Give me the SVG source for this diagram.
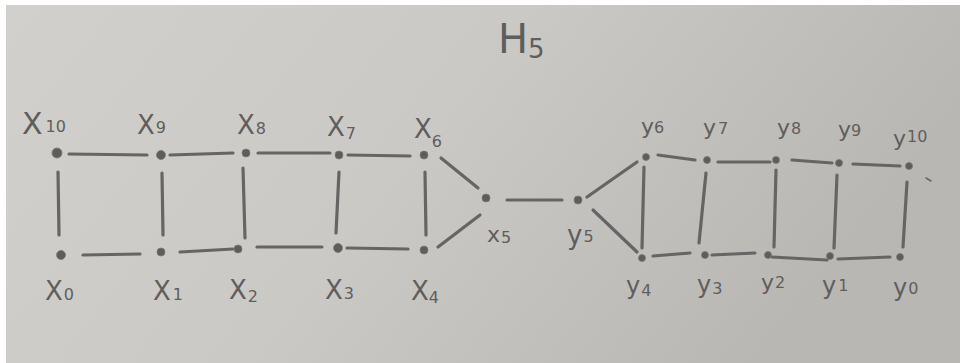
<svg xmlns="http://www.w3.org/2000/svg" width="960" height="363" viewBox="0 0 960 363">
<defs>
<linearGradient id="paper" x1="0" y1="0" x2="1" y2="0.3">
<stop offset="0" stop-color="#d2d0cd"/>
<stop offset="0.5" stop-color="#cbc9c6"/>
<stop offset="1" stop-color="#b9b7b4"/>
</linearGradient>
<style>
.e{stroke:#666565;stroke-width:3.2;stroke-linecap:round;fill:none}
.n{fill:#5e5d5c;stroke:#7a7977;stroke-width:0.8}
.l{font-family:"DejaVu Sans",sans-serif;fill:#5f5e5d;font-size:26px}
.s{font-size:16px}
</style>
</defs>
<rect width="960" height="363" fill="#ffffff"/>
<rect x="6" y="5" width="954" height="358" fill="url(#paper)"/>
<text class="l" x="498" y="53" style="font-size:40px">H<tspan style="font-size:26px" dy="5">5</tspan></text>
<g id="edges">
<line class="e" x1="69" y1="154" x2="147" y2="155"/>
<line class="e" x1="170" y1="155" x2="233" y2="153"/>
<line class="e" x1="258" y1="153" x2="330" y2="153"/>
<line class="e" x1="348" y1="155" x2="410" y2="156"/>
<line class="e" x1="83" y1="255" x2="140" y2="254"/>
<line class="e" x1="180" y1="252" x2="233" y2="249"/>
<line class="e" x1="257" y1="247" x2="322" y2="247"/>
<line class="e" x1="347" y1="248" x2="408" y2="249"/>
<line class="e" x1="58" y1="172" x2="59" y2="235"/>
<line class="e" x1="162" y1="173" x2="163" y2="235"/>
<line class="e" x1="243" y1="168" x2="245" y2="238"/>
<line class="e" x1="339" y1="172" x2="336" y2="233"/>
<line class="e" x1="425" y1="172" x2="426" y2="235"/>
<line class="e" x1="441" y1="158" x2="478" y2="188"/>
<line class="e" x1="438" y1="247" x2="480" y2="215"/>
<line class="e" x1="507" y1="200" x2="562" y2="200"/>
<line class="e" x1="587" y1="197" x2="637" y2="162"/>
<line class="e" x1="593" y1="210" x2="637" y2="252"/>
<line class="e" x1="658" y1="155" x2="695" y2="160"/>
<line class="e" x1="718" y1="162" x2="770" y2="162"/>
<line class="e" x1="792" y1="160" x2="832" y2="163"/>
<line class="e" x1="853" y1="164" x2="900" y2="166"/>
<line class="e" x1="653" y1="256" x2="690" y2="253"/>
<line class="e" x1="712" y1="255" x2="755" y2="253"/>
<line class="e" x1="772" y1="257" x2="827" y2="260"/>
<line class="e" x1="838" y1="259" x2="890" y2="257"/>
<line class="e" x1="644" y1="167" x2="642" y2="248"/>
<line class="e" x1="706" y1="173" x2="699" y2="243"/>
<line class="e" x1="776" y1="170" x2="774" y2="247"/>
<line class="e" x1="837" y1="175" x2="834" y2="248"/>
<line class="e" x1="907" y1="182" x2="903" y2="247"/>
<line class="e" style="stroke-width:1.5" x1="926" y1="178" x2="931" y2="181"/>
</g>
<g id="x10"><circle class="n" cx="57" cy="153" r="5"/><text class="l" x="22" y="134" style="font-size:30px">X<tspan class="s" dx="3" dy="-2">10</tspan></text></g>
<g id="x9"><circle class="n" cx="161" cy="155" r="4.5"/><text class="l" x="137" y="134">X<tspan class="s" dx="1" dy="-1">9</tspan></text></g>
<g id="x8"><circle class="n" cx="246" cy="153" r="4"/><text class="l" x="237" y="134">X<tspan class="s" dx="1">8</tspan></text></g>
<g id="x7"><circle class="n" cx="339" cy="155" r="4"/><text class="l" x="327" y="136">X<tspan class="s" dx="1" dy="3">7</tspan></text></g>
<g id="x6"><circle class="n" cx="424" cy="155" r="4"/><text class="l" x="414" y="138">X<tspan class="s" dx="0" dy="9">6</tspan></text></g>
<g id="x0"><circle class="n" cx="61" cy="255" r="4.5"/><text class="l" x="45" y="300">X<tspan class="s" dx="1">0</tspan></text></g>
<g id="x1"><circle class="n" cx="161" cy="252" r="4"/><text class="l" x="153" y="300">X<tspan class="s" dx="2">1</tspan></text></g>
<g id="x2"><circle class="n" cx="238" cy="249" r="4"/><text class="l" x="229" y="299">X<tspan class="s" dx="1" dy="3">2</tspan></text></g>
<g id="x3"><circle class="n" cx="338" cy="248" r="4.5"/><text class="l" x="325" y="299">X<tspan class="s" dx="1">3</tspan></text></g>
<g id="x4"><circle class="n" cx="424" cy="250" r="4"/><text class="l" x="411" y="300">X<tspan class="s" dx="0" dy="3">4</tspan></text></g>
<g id="x5"><circle class="n" cx="486" cy="198" r="4"/><text class="l" x="487" y="242" style="font-size:22px">x<tspan class="s" dx="1" dy="1">5</tspan></text></g>
<g id="y5"><circle class="n" cx="578" cy="200" r="4"/><text class="l" x="567" y="244">y<tspan class="s" dx="1" dy="-2">5</tspan></text></g>
<g id="y6"><circle class="n" cx="646" cy="157" r="3.5"/><text class="l" x="641" y="134" style="font-size:22px">y<tspan class="s" dx="0" dy="-1">6</tspan></text></g>
<g id="y7"><circle class="n" cx="707" cy="160" r="3.5"/><text class="l" x="703" y="135" style="font-size:22px">y<tspan class="s" dx="2" dy="-1">7</tspan></text></g>
<g id="y8"><circle class="n" cx="776" cy="160" r="3.5"/><text class="l" x="777" y="135" style="font-size:22px">y<tspan class="s" dx="1" dy="-1">8</tspan></text></g>
<g id="y9"><circle class="n" cx="839" cy="163" r="3.5"/><text class="l" x="838" y="137" style="font-size:22px">y<tspan class="s" dx="0" dy="-1">9</tspan></text></g>
<g id="y10"><circle class="n" cx="909" cy="166" r="3.5"/><text class="l" x="893" y="146" style="font-size:22px">y<tspan class="s" dx="1" dy="-4">10</tspan></text></g>
<g id="y4"><circle class="n" cx="642" cy="258" r="3.5"/><text class="l" x="626" y="294" style="font-size:24px">y<tspan class="s" dx="1" dy="2">4</tspan></text></g>
<g id="y3"><circle class="n" cx="705" cy="255" r="3.5"/><text class="l" x="697" y="293" style="font-size:24px">y<tspan class="s" dx="1" dy="1">3</tspan></text></g>
<g id="y2"><circle class="n" cx="768" cy="255" r="3.5"/><text class="l" x="761" y="290" style="font-size:22px">y<tspan class="s" dx="1" dy="-2">2</tspan></text></g>
<g id="y1"><circle class="n" cx="830" cy="256" r="3.5"/><text class="l" x="822" y="294" style="font-size:24px">y<tspan class="s" dx="2" dy="-3">1</tspan></text></g>
<g id="y0"><circle class="n" cx="900" cy="257" r="3.5"/><text class="l" x="893" y="296" style="font-size:24px">y<tspan class="s" dx="1" dy="-2">0</tspan></text></g>
</svg>
